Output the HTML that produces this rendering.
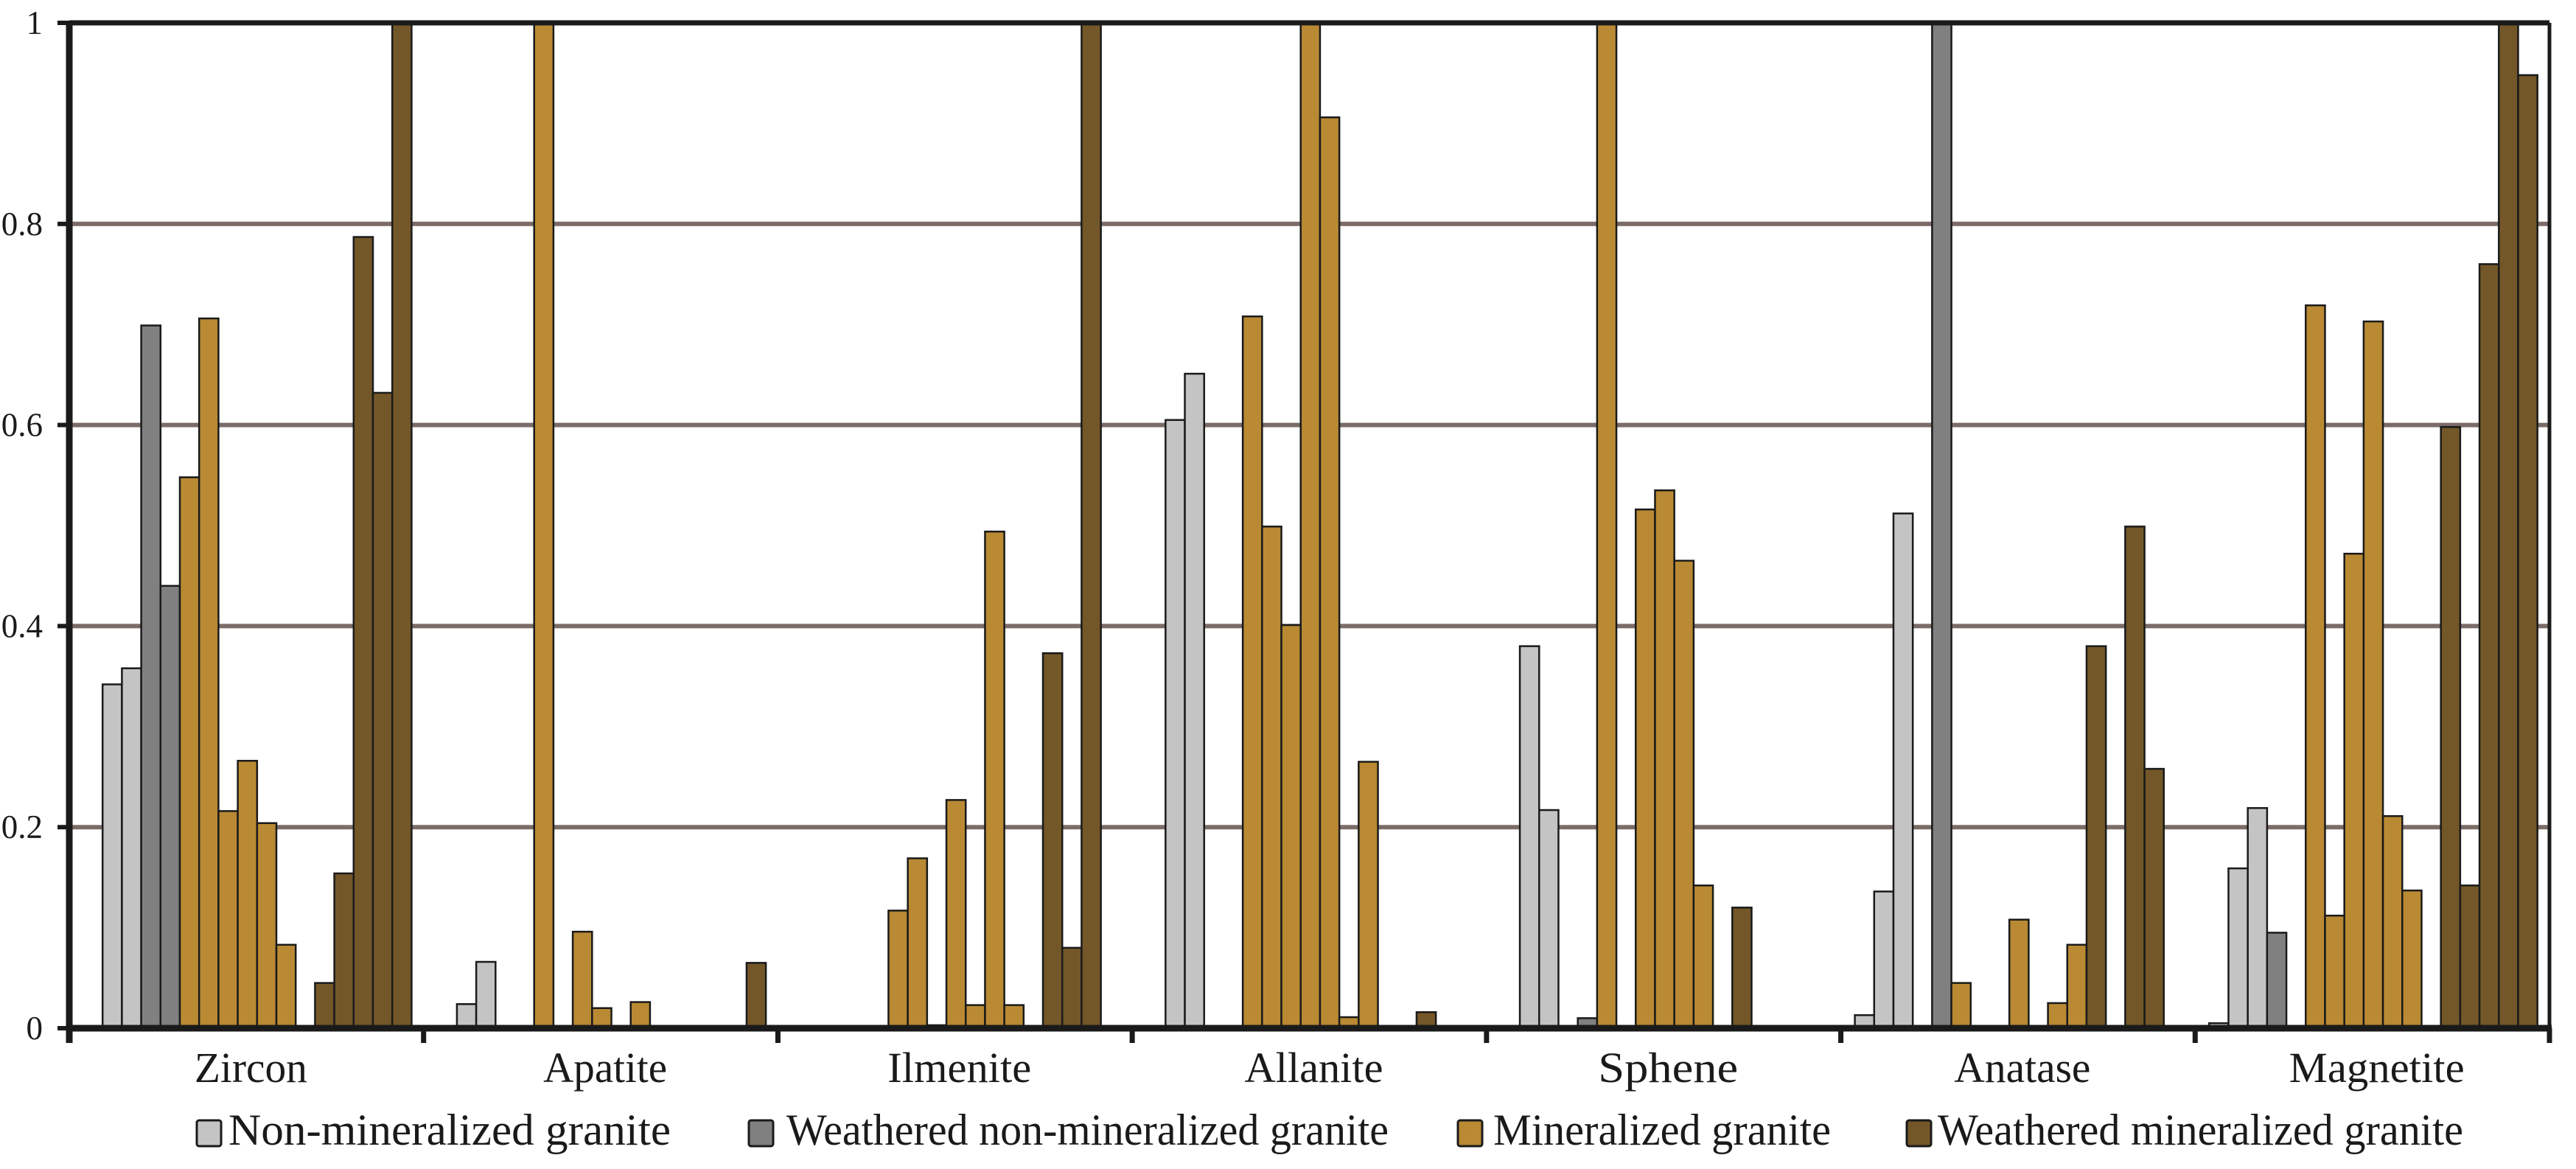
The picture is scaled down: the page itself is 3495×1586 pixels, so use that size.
<!DOCTYPE html>
<html><head><meta charset="utf-8"><style>
html,body{margin:0;padding:0;background:#fff;}
svg{display:block;}
svg text{font-family:'Liberation Serif','DejaVu Serif',serif;fill:#1a1a1a;}
</style></head><body>
<svg id="chart" width="3495" height="1586" viewBox="0 0 3495 1586" xmlns="http://www.w3.org/2000/svg">
<g id="grid"></g>
<g id="bars"></g>
<g id="axes"></g>
<g id="legend"></g>
</svg>
<script>
const categories = ["Zircon","Apatite","Ilmenite","Allanite","Sphene","Anatase","Magnetite"];
const yTicks = [0,0.2,0.4,0.6,0.8,1];
const yTickLabels = ["0","0.2","0.4","0.6","0.8","1"];
const seriesNames = ["Non-mineralized granite","Weathered non-mineralized granite","Mineralized granite","Weathered mineralized granite"];
const nonMineralized = [[0,0.342,0.358],[0,0.024,0.066],[0,0,0],[0,0.605,0.651],[0,0.380,0.217],[0.013,0.136,0.512],[0.005,0.159,0.219]];
const weatheredNonMineralized = [[0.699,0.440],[0,0],[0,0],[0,0],[0,0.01],[0,1.0],[0.095,0]];
const mineralized = [[0.548,0.706,0.216,0.266,0.204,0.083,0],[1.0,0,0.096,0.02,0,0.026,0],[0.117,0.169,0.003,0.227,0.023,0.494,0.023],[0.708,0.499,0.401,1.0,0.906,0.011,0.265],[1.0,0,0.516,0.535,0.465,0.142,0],[0.045,0,0,0.108,0,0.025,0.083],[0.719,0.112,0.472,0.703,0.211,0.137,0]];
const weatheredMineralized = [[0.045,0.154,0.787,0.632,1.0],[0,0,0,0,0.065],[0,0.373,0.08,1.0,0],[0,0,0.016,0,0],[0.12,0,0,0,0],[0.38,0,0.499,0.258,0],[0.598,0.142,0.760,1.0,0.948]];

const NS="http://www.w3.org/2000/svg";
const FONT="'Liberation Serif','DejaVu Serif',serif";
const colors=["#c4c4c4","#808080","#b98a33","#745729"];
const L=94,R=3459,T=31,B=1395;
const catW=(R-L)/categories.length, slotW=26.2, slotOff=19;
function y(v){return B-(B-T)*v;}
function catX(i){return L+i*catW;}
function mk(tag,attrs,parent){const e=document.createElementNS(NS,tag);for(const k in attrs)e.setAttribute(k,attrs[k]);if(tag==='text')e.setAttribute('font-family',FONT);parent.appendChild(e);return e;}
const grid=document.getElementById('grid'),bars=document.getElementById('bars'),axes=document.getElementById('axes'),legend=document.getElementById('legend');

yTicks.forEach((t,i)=>{
  if(t>0&&t<1){const g=mk('line',{x1:L,x2:R,y1:y(t),y2:y(t),stroke:'#7b6c67','stroke-width':6},grid);
    
    }
  const tk=mk('line',{x1:78,x2:L,y1:y(t),y2:y(t),stroke:'#1a1a1a','stroke-width':6},axes);
  
  
  const lb=mk('text',{x:58,y:y(t)+15,'font-size':45,'text-anchor':'end'},axes);
  lb.textContent=yTickLabels[i];
  
  
});

const allSeries=[nonMineralized,weatheredNonMineralized,mineralized,weatheredMineralized];
const labW=[153,168,195,188,190,185,238];
categories.forEach((c,ci)=>{
  let slot=0;
  allSeries.forEach((s,si)=>{
    s[ci].forEach(v=>{
      if(v>0){
        const x=catX(ci)+slotOff+slot*slotW;
        const r=mk('rect',{x:x,y:y(v),width:slotW,height:B-y(v),fill:colors[si],stroke:'#1a1a1a','stroke-width':2.5},bars);
        
        
      }
      slot++;
    });
  });
  const lab=mk('text',{x:catX(ci)+catW/2+6,y:1468,'font-size':58,'text-anchor':'middle',textLength:labW[ci],lengthAdjust:'spacingAndGlyphs'},axes);
  lab.textContent=c;
  
  
});
for(let i=0;i<=categories.length;i++){
  const tk=mk('line',{x1:catX(i),x2:catX(i),y1:B,y2:B+20,stroke:'#1a1a1a','stroke-width':7},axes);
  
  
}
const frame=[[L,T,R,T,7],[R,T,R,B,5],[L,T-3,L,B+20,9],[L-4,B,R+3,B,9]];
frame.forEach(f=>{const l=mk('line',{x1:f[0],y1:f[1],x2:f[2],y2:f[3],stroke:'#1a1a1a','stroke-width':f[4]},axes);
  
  });

const legX=[267,1016,1978,2587], legTxt=[[310,600],[1067,817],[2026,458],[2629,713]];
seriesNames.forEach((n,i)=>{
  const g=mk('g',{},legend);
  
  
  const r=mk('rect',{x:legX[i],y:1520,width:33,height:35,fill:colors[i],stroke:'#1a1a1a','stroke-width':3,rx:3},g);
  
  
  const t=mk('text',{x:legTxt[i][0],y:1553,'font-size':60,textLength:legTxt[i][1],lengthAdjust:'spacingAndGlyphs'},g);
  t.textContent=n;
  
  
});
</script>
</body></html>
